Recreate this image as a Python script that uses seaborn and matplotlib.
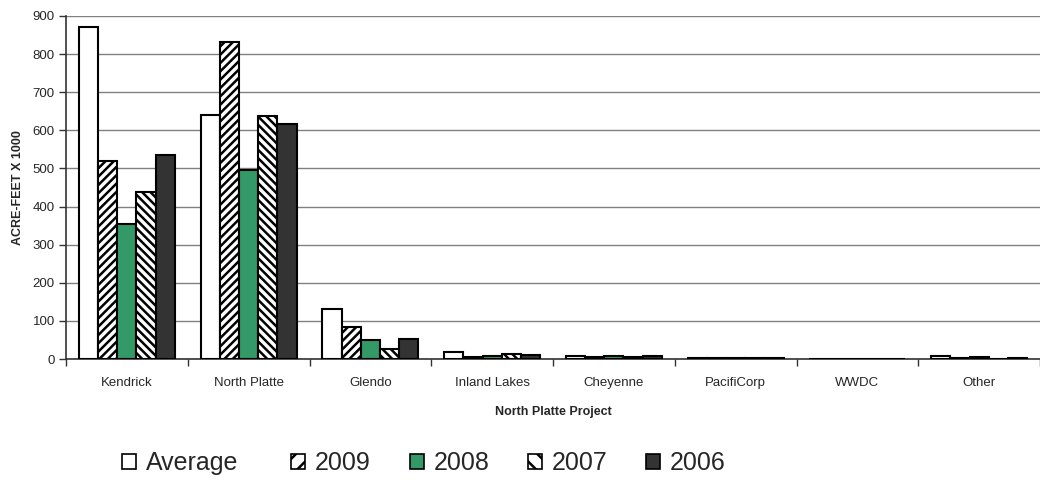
import matplotlib
matplotlib.use("Agg")
import matplotlib.pyplot as plt
import matplotlib.patches as mpatches
from matplotlib.ticker import FixedLocator, NullFormatter
import numpy as np
import pandas as pd
import seaborn as sns

# Storage by facility (thousand acre-feet)
categories = ["Kendrick", "North Platte", "Glendo", "Inland Lakes",
              "Cheyenne", "PacifiCorp", "WWDC", "Other"]
series_names = ["Average", "2009", "2008", "2007", "2006"]
average = [870, 640, 132, 19, 8, 3, 0, 9]
y2009 = [520, 833, 84, 5, 6, 3, 0, 1.5]
y2008 = [353, 497, 50, 8, 9, 3, 0, 4]
y2007 = [438, 638, 26, 12, 6, 3, 0, 0]
y2006 = [535, 617, 53, 11, 9, 3, 0, 3]
y_ticks = [0, 100, 200, 300, 400, 500, 600, 700, 800, 900]

colors = {"Average": "#ffffff", "2009": "#ffffff", "2008": "#339966",
          "2007": "#ffffff", "2006": "#333333"}
hatches = {"Average": "", "2009": "////", "2008": "", "2007": "\\\\\\\\", "2006": ""}
legend_hatches = {"Average": "", "2009": "//", "2008": "", "2007": "\\\\", "2006": ""}

values = [average, y2009, y2008, y2007, y2006]
df = pd.DataFrame({
    "Project": np.repeat([categories], len(series_names), axis=0).ravel(),
    "Series": np.repeat(series_names, len(categories)),
    "Value": np.concatenate(values),
})

sns.set_theme(style="white")
plt.rcParams["font.family"] = ["Liberation Sans", "DejaVu Sans"]
plt.rcParams["hatch.linewidth"] = 1.8

fig = plt.figure(figsize=(10.4, 4.91), dpi=100)
ax = fig.add_axes([66 / 1040, 1 - 359 / 491, 1 - 66 / 1040, (359 - 16) / 491])

sns.barplot(data=df, x="Project", y="Value", hue="Series", order=categories,
            hue_order=series_names, palette=colors, saturation=1,
            edgecolor="black", linewidth=1.5, width=0.79, legend=False,
            ax=ax, zorder=3)

for name, container in zip(series_names, ax.containers):
    for patch in container:
        patch.set_hatch(hatches[name])

ax.set_ylim(0, 900)
ax.set_xlim(-0.5, len(categories) - 0.5)
ax.set_yticks(y_ticks)
ax.yaxis.grid(True, color="#808080", linewidth=1.0, zorder=0)
ax.set_axisbelow(True)

# Category boundary ticks, labels centered between them
ax.xaxis.set_major_locator(FixedLocator(np.arange(-0.5, len(categories), 1.0)))
ax.xaxis.set_major_formatter(NullFormatter())
ax.xaxis.set_minor_locator(FixedLocator(np.arange(len(categories))))
ax.set_xticklabels(categories, minor=True)
ax.tick_params(axis="x", which="major", direction="out", length=5, width=1,
               color="#333333", bottom=True)
ax.tick_params(axis="x", which="minor", length=0, labelsize=9.5, pad=13, bottom=True)
ax.tick_params(axis="y", direction="out", length=5, width=1, color="#333333",
               labelsize=9.5, pad=3, left=True)

for side in ["top", "right"]:
    ax.spines[side].set_visible(False)
for side in ["left", "bottom"]:
    ax.spines[side].set_color("#333333")
    ax.spines[side].set_linewidth(1.2)

ax.set_xlabel("North Platte Project", fontsize=9, fontweight="bold", labelpad=12)
ax.set_ylabel("ACRE-FEET X 1000", fontsize=9, fontweight="bold", labelpad=6)

# Legend entries laid out in a single row below the chart
legend_x = [122, 291, 410, 528, 646]
for name, x in zip(series_names, legend_x):
    handle = mpatches.Patch(facecolor=colors[name], edgecolor="black",
                            hatch=legend_hatches[name], linewidth=1.2, label=name)
    fig.legend(handles=[handle], loc="center left",
               bbox_to_anchor=(x / 1040, 0.057), frameon=False, fontsize=18,
               handlelength=0.55, handleheight=0.55, handletextpad=0.4,
               borderpad=0, borderaxespad=0)

fig.savefig("out.png", dpi=100)
